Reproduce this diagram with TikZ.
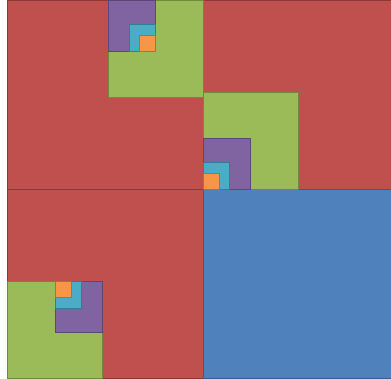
\documentclass[tikz,border=0pt]{standalone}
\usetikzlibrary{positioning}
\definecolor{redfill}{HTML}{C0504D}
\definecolor{redline}{HTML}{8C3836}
\definecolor{bluefill}{HTML}{4F81BD}
\definecolor{blueline}{HTML}{385D8A}
\definecolor{greenfill}{HTML}{9BBB59}
\definecolor{greenline}{HTML}{71893F}
\definecolor{purplefill}{HTML}{8064A2}
\definecolor{purpleline}{HTML}{5C4776}
\definecolor{cyanfill}{HTML}{4BACC6}
\definecolor{cyanline}{HTML}{357D91}
\definecolor{orangefill}{HTML}{F79646}
\definecolor{orangeline}{HTML}{B66D31}
\begin{document}
\begin{tikzpicture}
  [x=1pt,y=-1pt,
   quad/.style={rectangle,draw=redline,fill=redfill,line width=1pt,
inner sep=0pt,outer sep=0pt,minimum width=196pt,minimum height=189pt},
   green box/.style={quad,draw=greenline,fill=greenfill,
minimum width=95pt,minimum height=97pt},
   purple box/.style={quad,draw=purpleline,fill=purplefill,
minimum width=47pt,minimum height=51pt},
   cyan box/.style={quad,draw=cyanline,fill=cyanfill,
minimum width=26pt,minimum height=27pt},
   orange box/.style={quad,draw=orangeline,fill=orangefill,
minimum width=16pt,minimum height=16pt}]
  \useasboundingbox (0,0) rectangle (391,379);
  \node[quad,anchor=north west] (topleft) at (7,0.5) {};
  \node[quad] (topright) [right=0pt of topleft] {};
  \node[quad] (bottomleft) [below=0pt of topleft] {};
  \node[quad,draw=blueline,fill=bluefill] (bottomright) [right=0pt of bottomleft] {};

  \node[green box,anchor=north east] (greenA) at (topleft.north east) {};
  \node[purple box,anchor=north west] (purpleA) at (greenA.north west) {};
  \node[cyan box,anchor=south east] (cyanA) at (purpleA.south east) {};
  \node[orange box,anchor=south east] (orangeA) at (cyanA.south east) {};

  \node[green box,anchor=south west] (greenB) at (topright.south west) {};
  \node[purple box,anchor=south west] (purpleB) at (greenB.south west) {};
  \node[cyan box,anchor=south west] (cyanB) at (purpleB.south west) {};
  \node[orange box,anchor=south west] (orangeB) at (cyanB.south west) {};

  \node[green box,anchor=south west] (greenC) at (bottomleft.south west) {};
  \node[purple box,anchor=north east] (purpleC) at (greenC.north east) {};
  \node[cyan box,anchor=north west] (cyanC) at (purpleC.north west) {};
  \node[orange box,anchor=north west] (orangeC) at (cyanC.north west) {};
\end{tikzpicture}
\end{document}
